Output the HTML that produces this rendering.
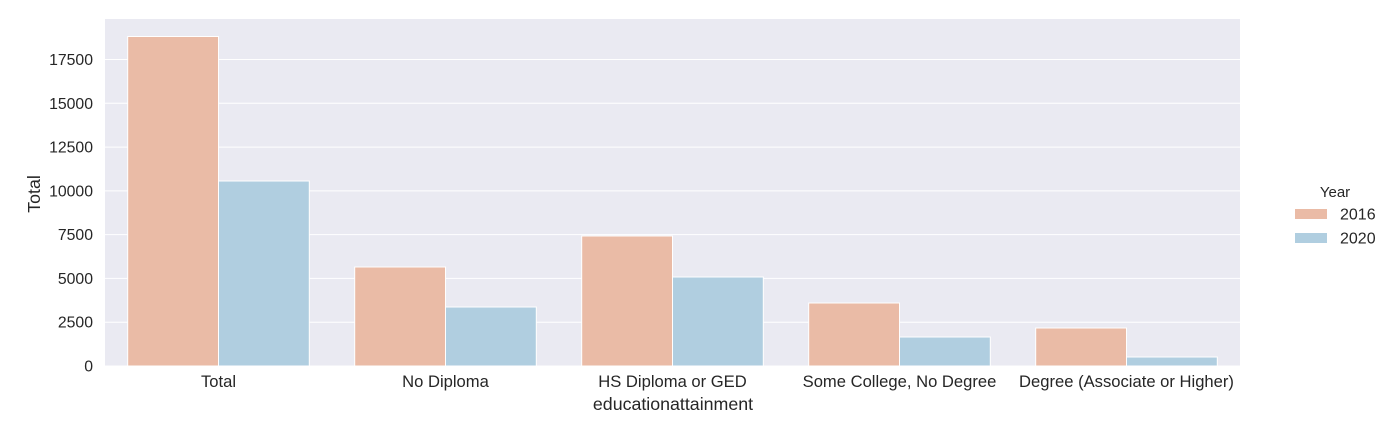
<!DOCTYPE html>
<html><head><meta charset="utf-8"><style>
body{margin:0;background:#fff;}
text{font-family:"Liberation Sans","DejaVu Sans",sans-serif;fill:#262626;}
</style></head><body>
<svg id="chart" width="1391" height="432"></svg>
<script>
const categories=["Total","No Diploma","HS Diploma or GED","Some College, No Degree","Degree (Associate or Higher)"];
const values2016=[18813,5653,7423,3597,2170];
const values2020=[10563,3369,5082,1656,514];
const yTicks=[0,2500,5000,7500,10000,12500,15000,17500];
const series=[{name:"2016",color:"#eabba6",vals:values2016},{name:"2020",color:"#b0cee0",vals:values2020}];
const L=105,R=1240,T=19,B=366;
const y=v=>B-v*(306.5/17500);
const bw=(R-L)/categories.length;
const NS="http://www.w3.org/2000/svg";
const svg=document.getElementById('chart');
function mk(tag,attrs,parent){const e=document.createElementNS(NS,tag);for(const k in attrs)e.setAttribute(k,attrs[k]);(parent||svg).appendChild(e);return e;}
const bg=mk('rect',{x:L,y:T,width:R-L,height:B-T,fill:'#eaeaf2'});


yTicks.forEach(t=>{
  const g=mk('line',{x1:L,x2:R,y1:y(t),y2:y(t),stroke:'#fff','stroke-width':1});
  
  
  const tx=mk('text',{x:L-12,y:y(t)+5.5,'text-anchor':'end','font-size':15.8});
  tx.textContent=t;
  
  
});
categories.forEach((c,i)=>{
  const cx=L+bw*(i+0.5);const w=bw*0.4;
  series.forEach((s,j)=>{
    const x0=cx-w+j*w;
    const r=mk('rect',{x:x0,y:y(s.vals[i]),width:w,height:B-y(s.vals[i]),fill:s.color,stroke:'#fff','stroke-width':1});
    
    
  });
  const tx=mk('text',{x:cx,y:387,'text-anchor':'middle','font-size':16.6});
  tx.textContent=c;
  
  
});
const xt=mk('text',{x:(L+R)/2+0.5,y:410,'text-anchor':'middle','font-size':17.8});
xt.textContent='educationattainment';


const yt=mk('text',{x:0,y:0,'text-anchor':'middle','font-size':17.8,transform:'translate(40,194) rotate(-90)'});
yt.textContent='Total';


const lt=mk('text',{x:1335,y:197,'text-anchor':'middle','font-size':15});
lt.textContent='Year';


series.forEach((s,j)=>{
  const ly=214+j*24;
  const r=mk('rect',{x:1295,y:ly-5,width:32,height:10,fill:s.color});
  
  
  const t=mk('text',{x:1340,y:ly+5.5,'font-size':16});
  t.textContent=s.name;
  
  
});
</script>
</body></html>
